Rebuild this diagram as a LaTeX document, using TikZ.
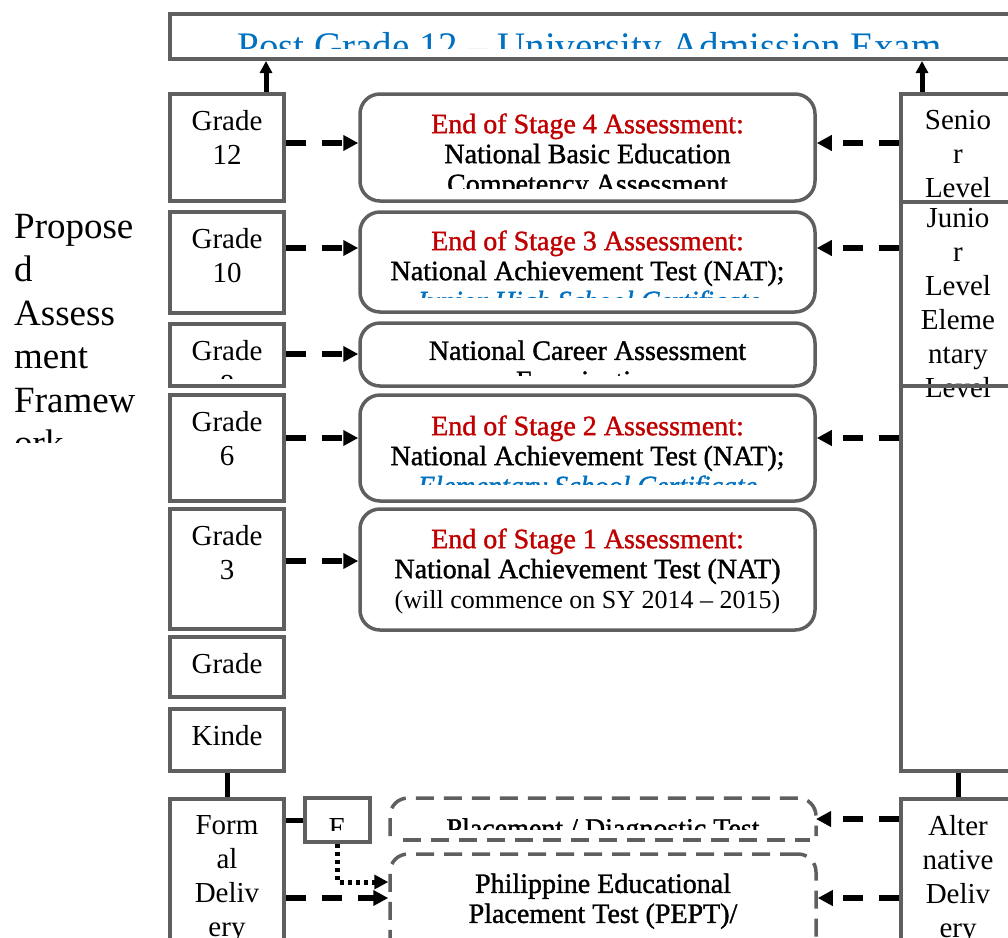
\documentclass[tikz,border=0pt]{standalone}
\usepackage{fontspec}
\setmainfont{Liberation Serif}
\newfontfamily\semibold[FakeBold=1.3]{Liberation Serif}
\usetikzlibrary{arrows.meta,positioning}

\definecolor{framegray}{RGB}{95,95,95}
\definecolor{stagered}{RGB}{192,0,0}
\definecolor{certblue}{RGB}{0,112,192}

\tikzset{
  lvlbox/.style={draw=framegray, line width=4pt, minimum width=114pt, inner sep=0pt},
  stagebox/.style={draw=framegray, line width=3.5pt, rounded corners=20pt, minimum width=455pt, inner sep=0pt},
  testline/.style={draw=framegray, line width=3.5pt, dash pattern=on 18pt off 10pt},
  lvltext/.style={font=\fontsize{29}{34}\selectfont, align=center, inner sep=0pt},
  stagetext/.style={font=\semibold\fontsize{28}{30}\selectfont, align=center, inner sep=0pt},
  darrow/.style={line width=6pt, dash pattern=on 20pt off 16pt, -{Triangle[length=15pt,width=15pt]}},
  dotarrow/.style={line width=5pt, dash pattern=on 4pt off 4pt, -{Triangle[length=14pt,width=14pt]}},
  uparrow/.style={line width=5pt, -{Triangle[length=12pt,width=12pt]}},
  link/.style={line width=5pt},
}

\begin{document}
\begin{tikzpicture}[x=1pt, y=-1pt]
  \clip (0,0) rectangle (1008,937);

  % exam on top
  \node[lvlbox, minimum width=845pt, minimum height=45pt] (exam) at (592.5,36.5) {};
  \begin{scope}
    \clip (exam.north west) rectangle ([yshift=13pt]exam.south east);
    \node[font=\fontsize{39}{44}\selectfont, text=certblue, inner sep=0pt, below=20pt of exam.north, xshift=-3pt] {Post Grade 12 -- University Admission Exam};
  \end{scope}

  % side title
  \begin{scope}
    \clip (0,200) rectangle (160,442);
    \node[font=\fontsize{37}{43.5}\selectfont, align=left, inner sep=0pt, anchor=north west] (frame) at (14,214) {Propose\\d\\Assess\\ment\\Framew\\ork};
  \end{scope}

  % grade levels
  \node[lvlbox, minimum height=107pt] (g12) at (227,147.5) {};
  \node[lvlbox, minimum height=101pt] (g10) at (227,262.5) {};
  \node[lvlbox, minimum height=62pt] (g8) at (227,355) {};
  \node[lvlbox, minimum height=106pt] (g6) at (227,448) {};
  \node[lvlbox, minimum height=120pt] (g3) at (227,569) {};
  \node[lvlbox, minimum height=60pt] (g1) at (227,667) {};
  \node[lvlbox, minimum height=62pt] (gk) at (227,740) {};
  \node[lvlbox, minimum height=162pt] (formal) at (227,880) {};

  \node[lvltext, below=18pt of g12.north] {Grade\\12};
  \node[lvltext, below=18pt of g10.north] {Grade\\10};
  \begin{scope}
    \clip (g8.north west) rectangle ([yshift=10pt]g8.south east);
    \node[lvltext, below=18pt of g8.north] {Grade\\8};
  \end{scope}
  \node[lvltext, below=18pt of g6.north] {Grade\\6};
  \node[lvltext, below=18pt of g3.north] {Grade\\3};
  \node[lvltext, below=18pt of g1.north] {Grade};
  \node[lvltext, below=18pt of gk.north] {Kinde};
  \node[lvltext, below=18pt of formal.north] {Form\\al\\Deliv\\ery};

  \node[lvlbox, minimum width=65pt, minimum height=44pt] (e) at (337.5,820) {};
  \begin{scope}
    \clip (e.north west) rectangle ([yshift=14pt]e.south east);
    \node[lvltext, below=22pt of e.north] {E};
  \end{scope}

  % assessments
  \node[stagebox, minimum height=107pt] (s4) at (587.5,147.5) {};
  \node[stagebox, minimum height=100pt] (s3) at (587.5,262) {};
  \node[stagebox, minimum height=63pt] (ncae) at (587.5,354.5) {};
  \node[stagebox, minimum height=106pt] (s2) at (587.5,448) {};
  \node[stagebox, minimum height=121pt] (s1) at (587.5,569.5) {};

  \begin{scope}
    \clip (s4.north west) rectangle ([yshift=14pt]s4.south east);
    \node[stagetext, below=21pt of s4.north] {\textcolor{stagered}{End of Stage 4 Assessment:}\\National Basic Education\\Competency Assessment};
  \end{scope}
  \begin{scope}
    \clip (s3.north west) rectangle ([yshift=16pt]s3.south east);
    \node[stagetext, below=20pt of s3.north] {\textcolor{stagered}{End of Stage 3 Assessment:}\\National Achievement Test (NAT);\\\textcolor{certblue}{\itshape Junior High School Certificate}};
  \end{scope}
  \begin{scope}
    \clip (ncae.north west) rectangle ([yshift=12pt]ncae.south east);
    \node[stagetext, below=19pt of ncae.north] {National Career Assessment\\Examination};
  \end{scope}
  \begin{scope}
    \clip (s2.north west) rectangle ([yshift=18pt]s2.south east);
    \node[stagetext, below=22pt of s2.north] {\textcolor{stagered}{End of Stage 2 Assessment:}\\National Achievement Test (NAT);\\\textcolor{certblue}{\itshape Elementary School Certificate}};
  \end{scope}
  \node[stagetext, below=21pt of s1.north] {\textcolor{stagered}{End of Stage 1 Assessment:}\\National Achievement Test (NAT)\\{\rmfamily\fontsize{26}{30}\selectfont (will commence on SY 2014 -- 2015)}};

  % placement tests
  \node[minimum width=426pt, minimum height=42pt, outer sep=0pt] (plac) at (603,819) {};
  \draw[testline, rounded corners=18pt] ([yshift=4pt]plac.south west) |- (plac.north east) -- ([yshift=4pt]plac.south east);
  \draw[testline] ([xshift=13pt]plac.south west) -- ([xshift=-6pt]plac.south east);
  \begin{scope}
    \clip (plac.north west) rectangle ([yshift=11pt]plac.south east);
    \node[stagetext, below=20pt of plac.north] {Placement / Diagnostic Test};
  \end{scope}

  \node[testline, rounded corners=18pt, minimum width=426pt, minimum height=126pt] (pept) at (603,917) {};
  \node[stagetext, below=21pt of pept.north] {Philippine Educational\\Placement Test (PEPT)/};

  % school levels
  \node[lvlbox, minimum height=108pt] (senior) at (958,148) {};
  \node[lvlbox, minimum height=184pt] (junior) at (958,294) {};
  \node[lvltext, below=8pt of junior.north] {Junio\\r\\Level\\Eleme\\ntary\\Level};
  \node[lvlbox, minimum height=385pt] (elem) at (958,578.5) {};
  \node[lvlbox, minimum height=162pt] (alt) at (958,880) {};
  \node[lvltext, below=18pt of senior.north] {Senio\\r\\Level};
  \node[lvltext, below=18pt of alt.north] {Alter\\native\\Deliv\\ery};

  % arrow rows
  \coordinate (r4) at (0,143);
  \coordinate (r3) at (0,248);
  \coordinate (r8) at (0,354);
  \coordinate (r2) at (0,438);
  \coordinate (r1) at (0,561);
  \coordinate (rd) at (0,882);
  \coordinate (rp) at (0,898);

  \draw[darrow] (g12.east |- r4) -- (s4.west |- r4);
  \draw[darrow] (g10.east |- r3) -- (s3.west |- r3);
  \draw[darrow] (g8.east |- r8) -- (ncae.west |- r8);
  \draw[darrow] (g6.east |- r2) -- (s2.west |- r2);
  \draw[darrow] (g3.east |- r1) -- (s1.west |- r1);

  \draw[darrow] (senior.west |- r4) -- (s4.east |- r4);
  \draw[darrow] (junior.west |- r3) -- (s3.east |- r3);
  \draw[darrow] (elem.west |- r2) -- (s2.east |- r2);

  \draw[darrow] (alt.west |- plac.east) -- (plac.east);
  \draw[darrow] (alt.west |- rp) -- (pept.east |- rp);
  \draw[darrow] (formal.east |- rp) -- (pept.west |- rp);
  \draw[dotarrow] (e.south) |- (pept.west |- rd);

  \draw[link] (formal.east |- e.west) -- (e.west);
  \draw[link] (gk.south) -- (formal.north);
  \draw[link] (elem.south) -- (alt.north);

  \draw[uparrow] ([xshift=39pt]g12.north) -- ([xshift=39pt]g12.north |- exam.south);
  \draw[uparrow] ([xshift=-36pt]senior.north) -- ([xshift=-36pt]senior.north |- exam.south);
\end{tikzpicture}
\end{document}
